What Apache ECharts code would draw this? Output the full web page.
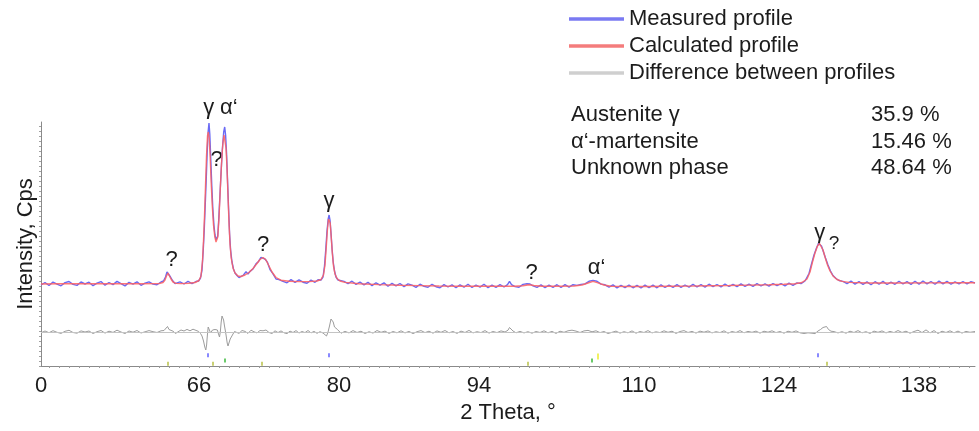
<!DOCTYPE html>
<html>
<head>
<meta charset="utf-8">
<script src="https://cdn.jsdelivr.net/npm/echarts@6/dist/echarts.min.js"></script>
<style>
html, body { margin: 0; padding: 0; background: #fff; }
#chart { width: 979px; height: 431px; }
</style>
</head>
<body>
<div id="chart"></div>
<script>
// X-ray diffraction pattern: measured profile, Rietveld fit and residual.
// Every point is [2 theta in degrees, intensity in counts].

const MEASURED = [
  [50.2,81],[50.6,83.5],[51.0,80.5],[51.4,84],[51.8,81.8],[52.2,80.2],[52.6,83.4],[53.0,84.5],[53.4,81.6],[53.8,80.6],
  [54.2,84],[54.6,82],[55.0,83.8],[55.4,80.3],[55.8,82.8],[56.2,84.4],[56.6,80.8],[57.0,83.5],[57.4,81.4],[57.8,84.6],
  [58.2,82.4],[58.6,80.1],[59.0,83.6],[59.4,81.8],[59.8,84.2],[60.2,80.7],[60.6,82.9],[61.0,84.1],[61.4,81.9],[61.8,81.2],
  [62.2,84],[62.45,85],[62.65,89],[62.8,94],[62.9,96],[63.0,93.5],[63.15,89],[63.35,85.5],[63.6,82.4],[63.8,81.6],
  [64.1,84.2],[64.5,82],[64.9,84.6],[65.3,82.4],[65.7,84.5],[65.95,85],[66.15,88],
  [66.3,96],[66.42,115],[66.52,135],[66.62,160],[66.72,186],[66.82,214],[66.92,235],[67.0,243],[67.08,232],[67.18,206],
  [67.28,180],[67.38,158],[67.5,140],[67.6,131],[67.7,126],[67.78,125],[67.87,130],[67.97,146],[68.08,168],[68.2,192],
  [68.33,216],[68.47,234],[68.57,239],[68.66,231],[68.76,212],[68.86,184],[68.96,157],[69.06,132],[69.16,116],[69.3,104],
  [69.45,97],[69.6,93],[69.8,90.5],[70.0,88.4],[70.2,90.2],[70.45,91],[70.7,94.2],[70.9,92],[71.1,94.6],[71.4,97],
  [71.7,102.2],[71.95,104.6],[72.2,108.6],[72.4,109.5],[72.6,107],[72.85,103.6],[73.1,96.5],[73.4,92.2],[73.7,87],[74.0,86.4],
  [74.4,84.6],[74.8,83.2],[75.2,86.4],[75.6,83.6],[76.0,86.1],[76.4,83.8],[76.8,82.8],[77.2,85.9],[77.6,83.7],[77.9,86.2],
  [78.2,86],[78.4,89],[78.55,100],[78.68,117],[78.8,135],[78.92,147],[79.01,151],[79.1,146],[79.2,133],[79.31,117],
  [79.42,104],[79.55,95],[79.7,89],[79.9,86],[80.1,85.2],
  [80.5,84.6],[80.9,82.3],[81.3,84.8],[81.7,81.6],[82.1,83.9],[82.5,81.2],[82.9,83.6],[83.3,80.4],[83.7,83.2],[84.1,80.9],
  [84.5,83.1],[84.9,79.8],[85.3,82.6],[85.7,80.1],[86.1,82.5],[86.5,79.4],[86.9,82.1],[87.3,80.9],[87.7,78.6],[88.1,81.8],
  [88.5,79.6],[88.9,78.7],[89.3,81.7],[89.7,79.3],[90.1,78.3],[90.5,81.4],[90.9,79],[91.3,81.1],[91.7,78.2],[92.1,81.2],
  [92.5,78.8],[92.9,81.8],[93.3,78.5],[93.7,81],[94.1,78.9],[94.5,81.7],[94.9,78.4],[95.3,80.9],[95.7,78.7],[96.1,81.3],
  [96.5,79],[96.85,81.4],[97.05,84.6],[97.25,81.4],[97.6,79.4],[98.0,78.8],[98.4,81.6],[98.8,82.2],[99.1,82],[99.4,80.1],
  [99.8,78.6],[100.2,81.1],[100.6,78.4],[101.0,80.9],[101.4,78.7],[101.8,81.3],[102.2,78.5],[102.6,81.4],[103.0,78.9],[103.4,81.3],
  [103.8,80.6],[104.2,81.6],[104.6,82.1],[105.0,84.7],[105.4,85.6],[105.8,84.8],[106.2,81.9],[106.6,81.2],[107.0,78.8],[107.4,81.1],
  [107.8,78.1],[108.2,80.6],[108.6,78.4],[109.0,81],[109.4,78.2],[109.8,80.6],[110.2,78],[110.6,80.9],[111.0,78.4],[111.4,80.8],
  [111.8,78.2],[112.2,81.2],[112.6,78.5],[113.0,80.8],[113.4,78.6],[113.8,81.4],[114.2,78.7],[114.6,81],[115.0,78.9],[115.4,81.6],
  [115.8,79],[116.2,81.3],[116.6,78.9],[117.0,81.8],[117.4,79.3],[117.8,81.5],[118.2,79.1],[118.6,82],[119.0,79.5],[119.4,81.7],
  [119.8,79.4],[120.2,82.1],[120.6,79.7],[121.0,81.8],[121.4,79.6],[121.8,82.3],[122.2,80],[122.6,82.1],[123.0,79.8],[123.4,82.5],
  [123.8,80.3],[124.2,82.4],[124.6,80.2],[125.0,82.8],[125.4,80.6],[125.8,83.1],[126.2,82.4],
  [126.6,85],[127.0,92.5],[127.25,102],[127.5,111],[127.75,118],[127.95,122.5],[128.08,123.5],[128.25,120],[128.45,114],[128.65,108],
  [128.9,101],[129.15,95],[129.4,90.5],[129.7,87.5],[130.0,85.5],[130.4,84.6],
  [130.8,82.4],[131.2,84.9],[131.6,81.9],[132.0,84.4],[132.4,81.6],[132.8,84.1],[133.2,81.3],[133.6,84.3],[134.0,81.8],[134.4,84.6],
  [134.8,81.5],[135.2,83.9],[135.6,81.7],[136.0,84.8],[136.4,82],[136.8,84.4],[137.2,81.6],[137.6,84.7],[138.0,81.9],[138.4,85],
  [138.8,82.1],[139.2,84.5],[139.6,81.7],[140.0,84.9],[140.4,82.2],[140.8,84.6],[141.2,81.8],[141.6,84.2],[142.0,82.1],[142.4,84.5],
  [142.8,82],[143.2,84.3],[143.6,83]
];

const CALCULATED = [
  [50.2,82],[52,82.2],[54,82.2],[56,82.2],[58,82.2],[60,82.2],[62,82.4],[62.4,83.5],[62.6,86],[62.75,90],
  [62.9,93],[63.05,91],[63.2,87],[63.4,84],[63.7,82.6],[64.2,82.4],[65,82.8],[65.6,83.5],[66.0,85.5],[66.2,90],
  [66.35,105],[66.45,125],[66.55,150],[66.65,180],[66.75,210],[66.85,230],[66.93,234],[67.02,228],[67.12,208],[67.22,183],
  [67.33,160],[67.45,141],[67.57,130],[67.7,124],[67.78,123.5],[67.88,129],[68.0,148],[68.12,175],[68.25,202],[68.38,222],
  [68.5,231],[68.6,229],[68.7,218],[68.8,198],[68.9,170],[69.0,143],[69.1,122],[69.22,108],[69.4,98],[69.6,93],
  [69.9,90],[70.2,89.5],[70.6,91],[71.0,93.5],[71.4,97.5],[71.8,102.5],[72.1,106.5],[72.4,108.5],[72.7,106],[73.0,100],
  [73.3,94],[73.7,88.5],[74.2,85.8],[75,84.8],[76,84.4],[77,84.4],[77.8,85],[78.2,86.5],[78.45,91],[78.6,101],
  [78.72,118],[78.84,136],[78.95,147],[79.03,149],[79.12,143],[79.22,129],[79.33,113],[79.45,100],[79.6,92],[79.8,87.5],
  [80.1,85],[80.6,83.6],[82,82.3],[84,81.4],[86,80.8],[88,80.4],[90,80],[92,79.8],[94,79.7],[96,79.7],
  [97.5,79.8],[98.4,80.2],[99.0,81.3],[99.5,80.5],[100.3,79.8],[102,79.7],[103.5,80],[104.3,81],[104.9,83],[105.4,84.6],
  [105.9,83.2],[106.5,81],[107.2,79.8],[109,79.5],[111,79.5],[113,79.7],[115,79.9],[117,80.2],[119,80.5],[121,80.9],
  [123,81.3],[124.5,81.7],[125.6,82.3],[126.3,83.5],[126.8,87],[127.1,94],[127.35,104],[127.6,113],[127.85,120],[128.05,122.5],
  [128.2,121.5],[128.4,116],[128.6,109],[128.85,101],[129.1,95],[129.4,90],[129.8,86.5],[130.3,84.6],[131,83.6],[133,83],
  [136,83],[139,83.1],[141,83.2],[143.6,83.2]
];

// Residual (measured minus calculated), drawn below the profiles around DIFF_BASELINE.
const DIFFERENCE = [
  [50.2,-0.8],[50.6,1],[51.0,-0.7],[51.4,1.3],[51.8,-0.3],[52.2,-1.4],[52.6,0.7],[53.0,1.7],[53.4,-0.5],[53.8,-1.2],
  [54.2,1.1],[54.6,0],[55.0,1],[55.4,-1.5],[55.8,0.3],[56.2,1.5],[56.6,-1.1],[57.0,0.8],[57.4,-0.4],[57.8,1.8],
  [58.2,0],[58.6,-1.5],[59.0,1],[59.4,-0.2],[59.8,1.5],[60.2,-1],[60.6,0.2],[61.0,1.4],[61.4,0.3],[61.8,-0.5],
  [62.2,1.2],[62.5,1.5],[62.7,3.5],[62.85,5.5],[63.0,2.5],[63.2,1.5],[63.4,0.8],[63.65,-1.5],[63.9,0.2],[64.2,2],
  [64.5,1.0],[64.8,2.6],[65.1,1.2],[65.4,2.8],[65.7,1.6],[65.95,0.6],[66.15,-1.5],
  [66.3,-4],[66.45,-9],[66.58,-15],[66.68,-18],[66.76,-13],[66.84,-3],[66.92,5],[67.0,7],[67.08,3],[67.16,-1],
  [67.25,1],[67.35,2],[67.48,0],[67.6,2.5],[67.72,4.5],[67.84,2],[67.95,-2],[68.05,-5],[68.13,0],[68.22,10],
  [68.3,16],[68.38,17],[68.46,12],[68.55,6],[68.64,1],[68.72,-4],[68.82,-11],[68.9,-14],[69.0,-12],[69.12,-7],
  [69.25,-5],[69.4,-2],[69.55,0.5],[69.75,0],[70.0,-1.4],
  [70.3,1.5],[70.6,0.6],[70.9,-1.4],[71.2,1.8],[71.5,0.2],[71.8,-0.9],[72.1,1.5],[72.4,1.2],[72.7,2],[73.0,-0.5],
  [73.3,-1.5],[73.6,1.2],[73.9,-0.6],[74.2,1.1],[74.5,-0.8],[74.8,-1.6],[75.1,0.9],[75.4,-0.5],[75.7,1.4],[76.0,-1],
  [76.3,0.5],[76.6,-0.6],[76.9,1.5],[77.2,-0.9],[77.5,0.6],[77.8,-1.3],[78.1,0.3],
  [78.4,-1],[78.6,-2],[78.75,-4],[78.9,0],[79.05,6],[79.2,13],[79.3,15],[79.42,10],[79.55,5],[79.7,3],
  [79.85,2.5],[80.0,0.5],[80.2,-1.2],
  [80.6,0.6],[81.0,-0.9],[81.4,1.4],[81.8,-0.5],[82.2,0.8],[82.6,-1.5],[83.0,0.3],[83.4,-1.1],[83.8,1.5],[84.2,-0.3],
  [84.6,0.9],[85.0,-1.4],[85.4,0.5],[85.8,-0.8],[86.2,1.2],[86.6,-0.9],[87.0,0.6],[87.4,-1.6],[87.8,0.3],[88.2,1.4],
  [88.6,-0.6],[89.0,0.8],[89.4,-1.2],[89.8,1.1],[90.2,-0.3],[90.6,1.5],[91.0,-0.8],[91.4,0.5],[91.8,-1.4],[92.2,0.9],
  [92.6,-0.5],[93.0,1.6],[93.4,-0.9],[93.8,0.3],[94.2,-0.6],[94.6,1.4],[95.0,-1.1],[95.4,0.5],[95.8,-0.6],[96.2,1.1],
  [96.6,0],[96.9,1.8],[97.05,4.5],[97.2,2.5],[97.4,1],[97.7,-0.8],[98.1,0.6],[98.5,-0.9],[98.9,0.3],[99.3,-1.2],
  [99.7,0.5],[100.1,-0.5],[100.5,1.2],[100.9,-0.8],[101.3,0.6],[101.7,-1.4],[102.1,0.8],[102.5,-0.3],[102.9,1.2],[103.3,1.8],
  [103.7,0.9],[104.1,-0.5],[104.5,1.1],[104.9,1.6],[105.3,0.2],[105.7,1.2],[106.1,-0.6],[106.5,0.5],[106.9,-1.5],[107.3,-0.3],
  [107.7,0.9],[108.1,-1.1],[108.5,0.3],[108.9,-0.8],[109.3,1.1],[109.7,-1.2],[110.1,0.5],[110.5,-0.5],[110.9,1.4],[111.3,-0.9],
  [111.7,0.2],[112.1,-0.6],[112.5,1.2],[112.9,-0.3],[113.3,0.8],[113.7,-1.4],[114.1,0.5],[114.5,1.4],[114.9,-0.5],[115.3,0.6],
  [115.7,-1.1],[116.1,0.9],[116.5,-0.2],[116.9,1.1],[117.3,-0.9],[117.7,0.3],[118.1,-0.6],[118.5,1.2],[118.9,-1.2],[119.3,0.5],
  [119.7,-0.5],[120.1,1.4],[120.5,-0.8],[120.9,0.6],[121.3,-0.3],[121.7,0.9],[122.1,-1.1],[122.5,0.8],[122.9,-0.2],[123.3,1.2],
  [123.7,-0.6],[124.1,0.5],[124.5,-1.2],[124.9,0.8],[125.3,-0.3],[125.7,1.1],[126.1,-0.8],[126.5,-1.5],[126.9,-0.8],[127.3,-1.2],
  [127.6,-1.6],[127.9,1],[128.15,2.5],[128.4,4.5],[128.6,6.5],[128.75,5.5],[128.95,2.5],[129.2,0.8],[129.5,0.4],[129.9,-0.9],
  [130.3,0.3],[130.7,-1.2],[131.1,0.8],[131.5,-0.5],[131.9,1.4],[132.3,-0.8],[132.7,0.3],[133.1,-1.4],[133.5,0.9],[133.9,-0.3],
  [134.3,1.1],[134.7,-0.9],[135.1,0.6],[135.5,-0.6],[135.9,1.5],[136.3,-0.5],[136.7,0.8],[137.1,-1.2],[137.5,0.5],[137.9,1.8],
  [138.3,-0.6],[138.7,2.1],[139.1,-0.9],[139.5,1.4],[139.9,-1.5],[140.3,0.8],[140.7,-0.5],[141.1,1.2],[141.5,-0.8],[141.9,0.9],
  [142.3,-1.1],[142.7,0.6],[143.1,-0.3],[143.6,0.5]
];
const DIFF_BASELINE = 34;

// Bragg reflection positions (2 theta) for each phase.
const GAMMA_REFLECTIONS = [66.9, 79.0, 127.9];
const MARTENSITE_REFLECTIONS = [68.6, 105.3];
const UNKNOWN_REFLECTIONS = [62.9, 67.4, 72.3, 98.9, 128.8];
const EXTRA_REFLECTIONS = [105.9];

// Axis extent and tick labels.
const X_MIN = 50.2;
const X_MAX = 143.6;
const Y_MAX = 244;
const X_TICK_VALUES = [50.2, 66, 80, 94, 110, 124, 138];
const X_TICK_LABELS = ['0', '66', '80', '94', '110', '124', '138'];

// Phase fractions.
const PHASE_NAMES = ['Austenite γ', 'α‘-martensite', 'Unknown phase'];
const PHASE_PERCENT = ['35.9 %', '15.46 %', '48.64 %'];

// Peak annotations: text and the [2 theta, counts] point it is centred on.
const PEAK_NOTES = [
  ['γ', 66.98, 258], ['α‘', 68.98, 258], ['?', 67.75, 206], ['?', 63.25, 106],
  ['?', 72.41, 121], ['γ', 79.01, 165], ['?', 99.25, 93], ['α‘', 105.75, 98],
  ['γ', 128.08, 133], ['?', 129.51, 122]
];

const FONT = '"Liberation Sans", Arial, sans-serif';
const TEXT = '#1c1c1c';

const minorXTicks = [];
for (let t = 51; t <= 143; t++) minorXTicks.push(t);
const minorYTicks = [];
for (let t = 0; t <= Y_MAX; t += 5) minorYTicks.push(t);

function markerSeries(name, positions, level, color, h) {
  return {
    name: name,
    type: 'scatter',
    symbol: 'rect',
    symbolSize: [2, h],
    silent: true,
    itemStyle: { color: color },
    data: positions.map(p => [p, level]),
    z: 4
  };
}

const chart = echarts.init(document.getElementById('chart'), null, { renderer: 'canvas' });

chart.setOption({
  animation: false,
  backgroundColor: '#fff',
  textStyle: { fontFamily: FONT },
  grid: { left: 41, right: 4, top: 122, bottom: 65, containLabel: false },
  legend: {
    orient: 'vertical',
    left: 564,
    top: 3,
    itemWidth: 55,
    itemHeight: 3.5,
    itemGap: 5,
    icon: 'rect',
    selectedMode: false,
    textStyle: { fontSize: 22, color: TEXT, fontFamily: FONT, padding: [0, 0, 0, 0] },
    data: [
      { name: 'Measured profile', itemStyle: { color: '#7a7af2' } },
      { name: 'Calculated profile', itemStyle: { color: '#f47c7c' } },
      { name: 'Difference between profiles', itemStyle: { color: '#cfcfcf' } }
    ]
  },
  xAxis: {
    type: 'value',
    min: X_MIN,
    max: X_MAX,
    name: '2 Theta, °',
    nameLocation: 'middle',
    nameGap: 34,
    nameTextStyle: { fontSize: 22, color: TEXT, fontFamily: FONT },
    axisLine: { lineStyle: { color: '#8a8a8a', width: 1 } },
    axisTick: { show: true, customValues: minorXTicks, length: 2, lineStyle: { color: '#9a9a9a' } },
    axisLabel: {
      customValues: X_TICK_VALUES,
      formatter: v => {
        const i = X_TICK_VALUES.findIndex(t => Math.abs(t - v) < 1e-6);
        return i >= 0 ? X_TICK_LABELS[i] : '';
      },
      fontSize: 22,
      color: TEXT,
      margin: 9,
      fontFamily: FONT
    },
    splitLine: { show: false }
  },
  yAxis: {
    type: 'value',
    min: 0,
    max: Y_MAX,
    name: 'Intensity, Cps',
    nameLocation: 'middle',
    nameGap: 4,
    nameTextStyle: { fontSize: 22, color: TEXT, fontFamily: FONT },
    axisLine: { show: true, lineStyle: { color: '#8a8a8a', width: 1 } },
    axisTick: { show: true, customValues: minorYTicks, length: 2, lineStyle: { color: '#a0a0a0' } },
    axisLabel: { show: false },
    splitLine: { show: false }
  },
  series: [
    {
      name: 'Difference between profiles',
      type: 'line',
      data: DIFFERENCE.map(d => [d[0], d[1] + DIFF_BASELINE]),
      showSymbol: false,
      lineStyle: { color: '#9c9c9c', width: 1 },
      itemStyle: { color: '#9c9c9c' },
      markLine: {
        silent: true,
        symbol: 'none',
        label: { show: false },
        lineStyle: { color: '#c4c4c4', width: 1, type: 'solid' },
        data: [{ yAxis: DIFF_BASELINE }]
      },
      z: 2
    },
    {
      name: 'Measured profile',
      type: 'line',
      data: MEASURED,
      showSymbol: false,
      lineStyle: { color: '#6a6af4', width: 1.4 },
      itemStyle: { color: '#6a6af4' },
      z: 3
    },
    {
      name: 'Calculated profile',
      type: 'line',
      data: CALCULATED,
      showSymbol: false,
      lineStyle: { color: '#ff5f5f', width: 1.4, opacity: 0.85 },
      itemStyle: { color: '#ff5f5f' },
      z: 4
    },
    markerSeries('γ reflections', GAMMA_REFLECTIONS, 10.7, '#6b6bff', 4),
    markerSeries('α‘ reflections', MARTENSITE_REFLECTIONS, 5.5, '#46bd46', 4),
    markerSeries('unknown reflections', UNKNOWN_REFLECTIONS, 2.2, '#bcc450', 4),
    markerSeries('extra reflections', EXTRA_REFLECTIONS, 9.4, '#eeee3a', 6)
  ]
});

// Peak labels and the phase-fraction table are placed after the axes exist.
const graphics = PEAK_NOTES.map(n => {
  const p = chart.convertToPixel({ gridIndex: 0 }, [n[1], n[2]]);
  const small = n[0] === '?' && n[1] > 129;
  return {
    type: 'text',
    x: p[0],
    y: p[1],
    silent: true,
    style: {
      text: n[0],
      fontSize: small ? 19 : 22,
      fontFamily: FONT,
      fill: TEXT,
      align: 'center',
      verticalAlign: 'middle'
    }
  };
});

PHASE_NAMES.forEach((name, i) => {
  const y = 115 + i * 26.5;
  graphics.push({
    type: 'text', x: 571, y: y, silent: true,
    style: { text: name, fontSize: 22, fontFamily: FONT, fill: TEXT, align: 'left', verticalAlign: 'middle' }
  });
  graphics.push({
    type: 'text', x: 871, y: y, silent: true,
    style: { text: PHASE_PERCENT[i], fontSize: 22, fontFamily: FONT, fill: TEXT, align: 'left', verticalAlign: 'middle' }
  });
});

chart.setOption({ graphic: graphics });
</script>
</body>
</html>
